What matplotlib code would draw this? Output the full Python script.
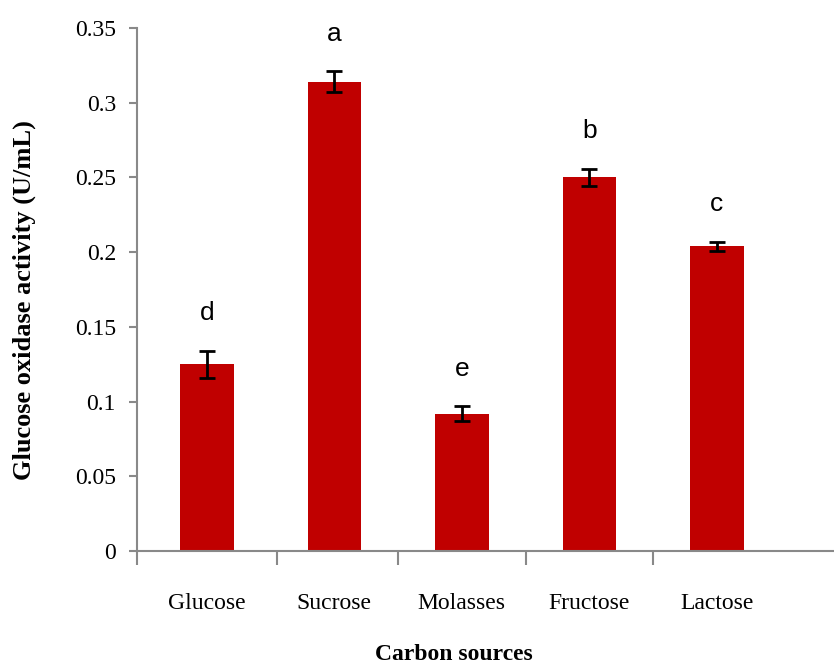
import matplotlib
matplotlib.use('Agg')
import matplotlib.pyplot as plt
import numpy as np

# carbon sources vs glucose oxidase activity
sources = ['Glucose', 'Sucrose', 'Molasses', 'Fructose', 'Lactose']
activity = [0.125, 0.314, 0.092, 0.250, 0.204]
errors = [0.009, 0.007, 0.005, 0.006, 0.003]
groups = ['d', 'a', 'e', 'b', 'c']
yticks = [0, 0.05, 0.1, 0.15, 0.2, 0.25, 0.3, 0.35]
ytick_labels = ['0', '0.05', '0.1', '0.15', '0.2', '0.25', '0.3', '0.35']

bar_color = '#C00000'
axis_color = '#898989'
serif = ['Liberation Serif', 'DejaVu Serif']

fig = plt.figure(figsize=(8.34, 6.68), dpi=100)
ax = fig.add_axes([0.164, 0.175, 0.836, 0.783])

x = np.arange(len(sources))
ax.bar(x, activity, width=0.42, color=bar_color, zorder=2)
ax.errorbar(x, activity, yerr=errors, fmt='none', ecolor='black',
            elinewidth=2, capsize=6, capthick=2, zorder=3)

# significance letters above the error bars
for xi, v, e, g in zip(x, activity, errors, groups):
    ax.annotate(g, (xi, v + e), xytext=(0, 27), textcoords='offset points',
                ha='center', va='center', fontsize=19,
                family=['Liberation Sans Narrow', 'Liberation Sans', 'DejaVu Sans'])

ax.set_xlim(-0.55, 4.92)
ax.set_ylim(0, 0.35)

ax.set_yticks(yticks)
ax.set_yticklabels(ytick_labels, family=serif, fontsize=17)
ax.set_xticks(x)
ax.set_xticklabels(sources, family=serif, fontsize=17)
ax.tick_params(axis='x', length=0, pad=30)
ax.set_xticks([-0.55, 0.55, 1.5, 2.5, 3.5], minor=True)
ax.tick_params(axis='x', which='minor', length=10, width=1.5, color=axis_color)
ax.tick_params(axis='y', length=6, width=1.5, color=axis_color, pad=9)

for side in ['top', 'right']:
    ax.spines[side].set_visible(False)
for side in ['left', 'bottom']:
    ax.spines[side].set_color(axis_color)
    ax.spines[side].set_linewidth(1.5)

ax.set_ylabel('Glucose oxidase activity (U/mL)', family=serif,
              fontweight='bold', fontsize=19)
ax.yaxis.set_label_coords(-0.144, 0.48)
fig.text(454 / 834, 0.004, 'Carbon sources', family=serif,
         fontweight='bold', fontsize=17, ha='center', va='bottom')

fig.savefig('out.png', dpi=100)
